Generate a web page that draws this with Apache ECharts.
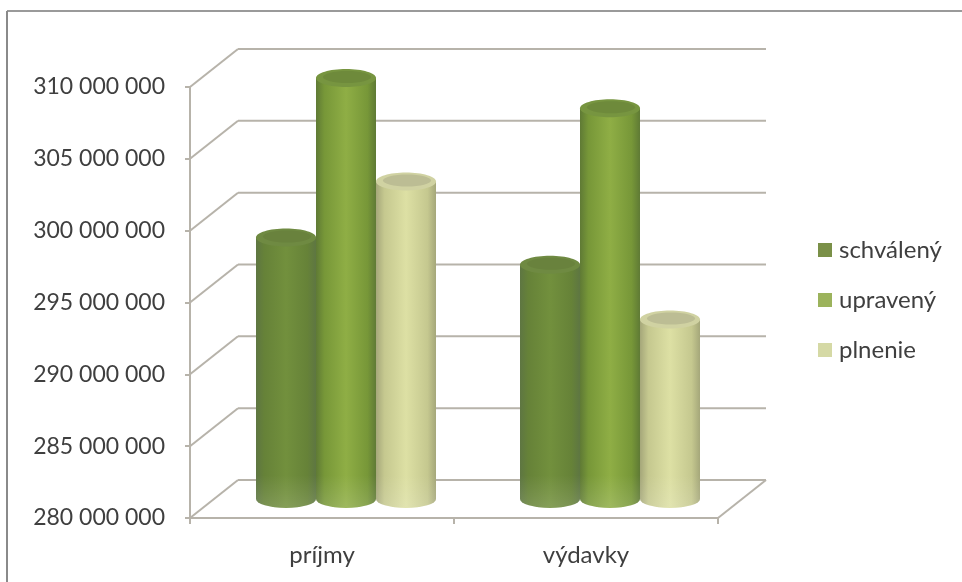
<!DOCTYPE html>
<html><head><meta charset="utf-8">
<style>html,body{margin:0;padding:0;background:#fff}#c{width:962px;height:582px}</style>
<script src="https://cdn.jsdelivr.net/npm/echarts@6/dist/echarts.min.js"></script>
</head><body><div id="c"></div>
<script>
const categories = ['príjmy', 'výdavky'];
const schvaleny = [298200000, 296300000];
const upraveny = [309300000, 307200000];
const plnenie = [302100000, 292500000];
const yTicks = [280000000, 285000000, 290000000, 295000000, 300000000, 305000000, 310000000];

const DX = 48, DY = -38, RX = 30, RY = 9, FONT = 'Lato, "Open Sans", sans-serif', GRID = '#b7b3aa';

function wall(params, api) {
  const p = api.coord([0, api.value(1)]);
  const cs = params.coordSys;
  const x0 = cs.x, x1 = cs.x + cs.width, y = p[1];
  const style = { stroke: GRID, lineWidth: 2, fill: null };
  const kids = [
    { type: 'line', shape: { x1: x0, y1: y, x2: x0 + DX, y2: y + DY }, style },
    { type: 'line', shape: { x1: x0 + DX, y1: y + DY, x2: x1 + DX, y2: y + DY }, style }
  ];
  if (api.value(1) === yTicks[0]) {
    kids.push({ type: 'line', shape: { x1: x1, y1: y, x2: x1 + DX, y2: y + DY }, style });
  }
  return { type: 'group', children: kids };
}

function cylinder(slot, c) {
  return function (params, api) {
    const cat = api.value(0), val = api.value(1);
    const top = api.coord([cat, val]), base = api.coord([cat, yTicks[0]]);
    const cx = top[0] + slot * 60 + DX / 2;
    const t = top[1] + DY / 2, b = base[1] + DY / 2;
    const l = cx - RX, r = cx + RX;
    const body = (from) => `M${l} ${from}L${l} ${b}A${RX} ${RY} 0 0 0 ${r} ${b}L${r} ${from}Z`;
    return {
      type: 'group',
      children: [
        { type: 'path', shape: { pathData: body(t), x: l, y: t, width: 2 * RX, height: b - t + RY, layout: 'cover' },
          style: { fill: new echarts.graphic.LinearGradient(0, 0, 1, 0, [
            { offset: 0, color: c.edge }, { offset: 0.14, color: c.side },
            { offset: 0.5, color: c.mid }, { offset: 0.86, color: c.side }, { offset: 1, color: c.edge }]) } },
        { type: 'path', shape: { pathData: body(b - 24), x: l, y: b - 24, width: 2 * RX, height: 24 + RY, layout: 'cover' },
          style: { fill: new echarts.graphic.LinearGradient(0, 0, 0, 1, [
            { offset: 0, color: 'rgba(255,255,255,0)' }, { offset: 1, color: 'rgba(255,255,255,0.14)' }]) } },
        { type: 'ellipse', shape: { cx, cy: t, rx: RX, ry: RY }, style: { fill: c.rim } },
        { type: 'ellipse', shape: { cx: cx + 1, cy: t - 1, rx: RX - 6, ry: RY - 3 }, style: { fill: c.cap } }
      ]
    };
  };
}

function barSeries(name, values, slot, c) {
  return {
    type: 'custom', name, coordinateSystem: 'cartesian2d', silent: true, clip: false,
    itemStyle: { color: c.legend },
    encode: { x: 0, y: 1 },
    data: values.map((v, i) => [i, v]),
    renderItem: cylinder(slot, c)
  };
}

const chart = echarts.init(document.getElementById('c'), null, { renderer: 'canvas' });
chart.setOption({
  animation: false,
  backgroundColor: '#fff',
  grid: { left: 190, right: 244, top: 87, bottom: 64 },
  xAxis: {
    type: 'category', data: categories,
    axisLine: { lineStyle: { color: GRID, width: 2 } },
    axisTick: { show: true, length: 6, lineStyle: { color: GRID, width: 2 } },
    axisLabel: { color: '#3f3f3f', fontFamily: FONT, fontSize: 24, margin: 25 },
    splitLine: { show: false }
  },
  yAxis: {
    type: 'value', min: 280000000, max: 310000000, interval: 5000000,
    axisLine: { show: true, lineStyle: { color: GRID, width: 2 } },
    axisTick: { show: true, length: 5, lineStyle: { color: GRID, width: 2 } },
    axisLabel: { color: '#3f3f3f', fontFamily: FONT, fontSize: 23, margin: 25, padding: [4, 0, 0, 0],
      formatter: (v) => String(v).replace(/\B(?=(\d{3})+$)/g, ' ') },
    splitLine: { show: false }
  },
  legend: {
    left: 813, top: 233, orient: 'vertical', itemGap: 26, itemWidth: 14, itemHeight: 14,
    icon: 'rect', selectedMode: false,
    textStyle: { color: '#3f3f3f', fontFamily: FONT, fontSize: 24, padding: [0, 0, 0, 2] },
    data: ['schválený', 'upravený', 'plnenie']
  },
  graphic: [
    { type: 'line', silent: true, shape: { x1: 7, y1: 11, x2: 962, y2: 11 }, style: { stroke: '#9a9a9a', lineWidth: 2 } },
    { type: 'line', silent: true, shape: { x1: 7, y1: 11, x2: 7, y2: 582 }, style: { stroke: '#8a8a8a', lineWidth: 2 } }
  ],
  series: [
    { type: 'custom', silent: true, clip: false, encode: { x: 0, y: 1 }, legendHoverLink: false,
      data: yTicks.map(v => [0, v]), renderItem: wall },
    barSeries('schválený', schvaleny, -1, { edge: '#5e7642', side: '#668238', mid: '#72903d', rim: '#6f8a42', cap: '#69823d', legend: '#7a9048' }),
    barSeries('upravený', upraveny, 0, { edge: '#5f7a35', side: '#779738', mid: '#8fae45', rim: '#779540', cap: '#6e8a3b', legend: '#9cb35c' }),
    barSeries('plnenie', plnenie, 1, { edge: '#a5a77a', side: '#c5c88f', mid: '#dde0a4', rim: '#d0d2a2', cap: '#bcbd94', legend: '#d5d9a5' })
  ]
});
</script></body></html>
